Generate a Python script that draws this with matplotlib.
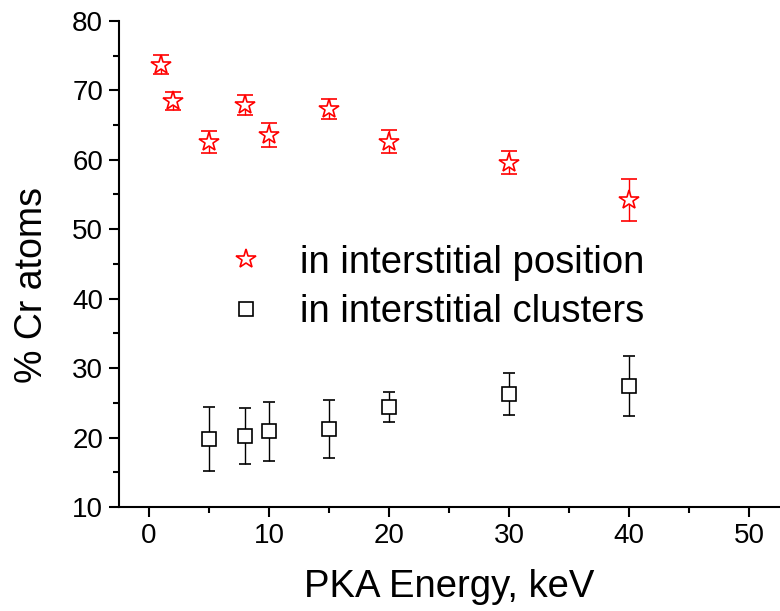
import matplotlib
matplotlib.use("Agg")
import matplotlib.pyplot as plt
from matplotlib.ticker import MultipleLocator

plt.rcParams['font.family'] = ['Liberation Sans', 'DejaVu Sans']

# Cr atoms in interstitial position (red stars)
pos_energy = [1, 2, 5, 8, 10, 15, 20, 30, 40]
pos_pct = [73.7, 68.5, 62.6, 67.9, 63.6, 67.3, 62.6, 59.6, 54.2]
pos_err = [1.4, 1.3, 1.6, 1.45, 1.7, 1.45, 1.7, 1.6, 3.0]

# Cr atoms in interstitial clusters (black squares)
clu_energy = [5, 8, 10, 15, 20, 30, 40]
clu_pct = [19.8, 20.2, 20.9, 21.2, 24.4, 26.3, 27.4]
clu_err = [4.6, 4.0, 4.25, 4.2, 2.1, 3.05, 4.3]

fig = plt.figure(figsize=(7.8, 6.11), dpi=100)
ax = fig.add_axes([0.1526, 0.170, 0.846, 0.796])

eb1 = ax.errorbar(pos_energy, pos_pct, yerr=pos_err, fmt='*', color='red',
                  markerfacecolor='white', markeredgecolor='red', markersize=15,
                  markeredgewidth=1.2, ecolor='red', elinewidth=1.0, capsize=6,
                  capthick=1.0)
eb2 = ax.errorbar(clu_energy, clu_pct, yerr=clu_err, fmt='s', color='black',
                  markerfacecolor='white', markeredgecolor='black', markersize=10,
                  markeredgewidth=1.2, ecolor='black', elinewidth=1.0, capsize=4,
                  capthick=1.0)

ax.set_xlim(-2.5, 52.5)
ax.set_ylim(10, 80)
ax.xaxis.set_major_locator(MultipleLocator(10))
ax.xaxis.set_minor_locator(MultipleLocator(5))
ax.yaxis.set_major_locator(MultipleLocator(10))
ax.yaxis.set_minor_locator(MultipleLocator(5))

for side in ['top', 'right']:
    ax.spines[side].set_visible(False)
for side in ['left', 'bottom']:
    ax.spines[side].set_linewidth(1.5)

ax.tick_params(which='major', direction='out', length=7.5, width=1.5, labelsize=20, pad=4)
ax.tick_params(which='minor', direction='out', length=4, width=1.5)

ax.set_xlabel("PKA Energy, keV", fontsize=27.5, labelpad=14)
ax.set_ylabel("% Cr atoms", fontsize=27)
ax.yaxis.set_label_coords(-0.104, 0.457)

ax.legend([eb1[0], eb2[0]], ["in interstitial position", "in interstitial clusters"],
          loc='center left', bbox_to_anchor=(0.164, 0.452), frameon=False,
          fontsize=27.5, handlelength=1.0, handletextpad=0.9, borderpad=0,
          borderaxespad=0, labelspacing=0.35)

fig.savefig("out.png", dpi=100)
